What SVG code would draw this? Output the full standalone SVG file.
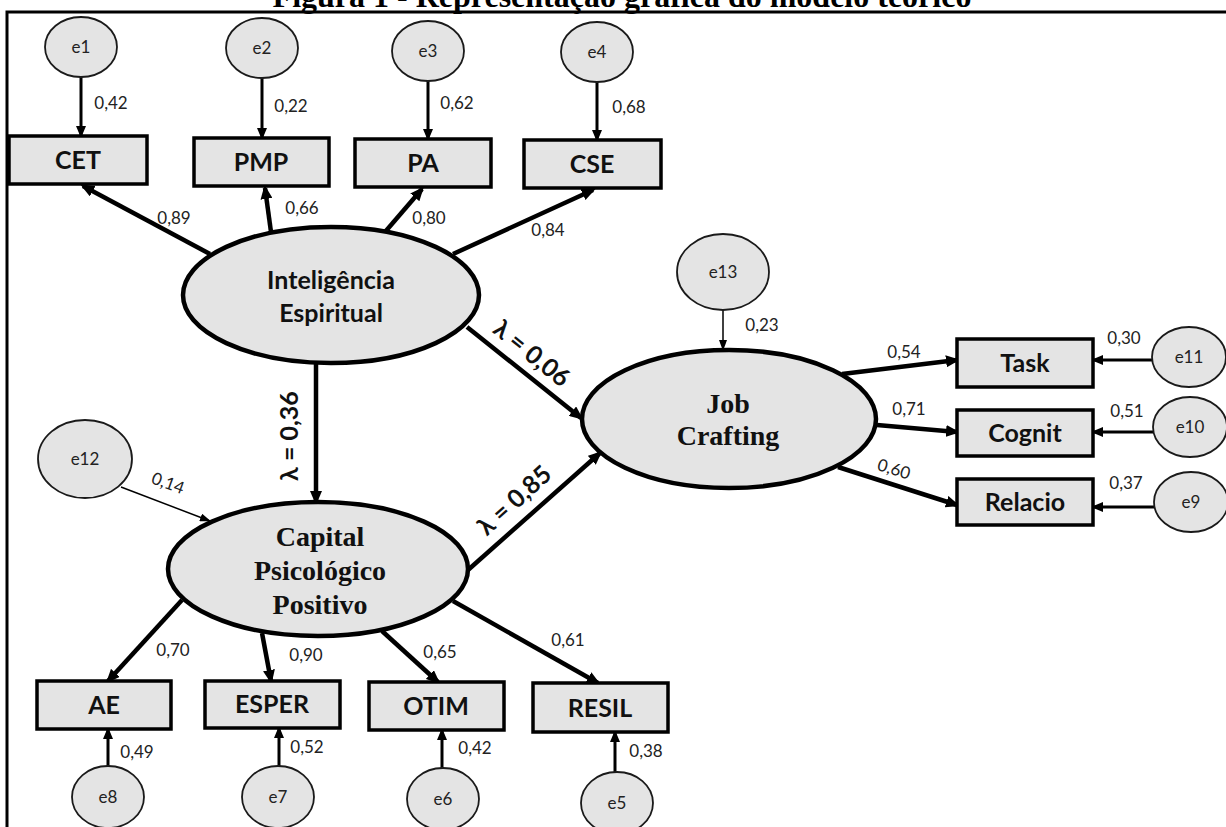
<svg xmlns="http://www.w3.org/2000/svg" width="1226" height="827" viewBox="0 0 1226 827">
<defs>
<style>
.bg{fill:#ffffff}
.frame{stroke:#000;stroke-width:3;fill:none}
.title{font-family:"Liberation Serif","Times New Roman",serif;font-weight:bold;font-size:32px;fill:#000;text-anchor:middle}
.err{fill:#e4e4e4;stroke:#1a1a1a;stroke-width:1.8}
.lat{fill:#e4e4e4;stroke:#000;stroke-width:4.5}
.box{fill:#e4e4e4;stroke:#000;stroke-width:3.5}
.et{font-family:Lato,"Liberation Sans",sans-serif;font-size:17px;fill:#222;text-anchor:middle}
.bt{font-family:Lato,"Liberation Sans",sans-serif;font-weight:bold;font-size:25px;fill:#111;text-anchor:middle}
.lt{font-family:Lato,"Liberation Sans",sans-serif;font-weight:bold;font-size:25px;fill:#111;text-anchor:middle}
.st{font-family:"Liberation Serif","Times New Roman",serif;font-weight:bold;font-size:28px;fill:#111;text-anchor:middle}
.num{font-family:Lato,"Liberation Sans",sans-serif;font-size:17px;fill:#222;text-anchor:middle}
.lam{font-family:Lato,"Liberation Sans",sans-serif;font-weight:bold;font-size:25px;fill:#111;text-anchor:middle}
.thick{stroke:#000;stroke-width:4.5;fill:none;marker-end:url(#ah)}
.med{stroke:#000;stroke-width:3;fill:none;marker-end:url(#am)}
.thin{stroke:#000;stroke-width:1.5;fill:none;marker-end:url(#at)}
</style>
<marker id="ah" viewBox="0 0 14 12" refX="11" refY="6" markerWidth="14" markerHeight="12" markerUnits="userSpaceOnUse" orient="auto"><path d="M0,0 L14,6 L0,12 z" fill="#000"/></marker>
<marker id="am" viewBox="0 0 12 10" refX="10" refY="5" markerWidth="12" markerHeight="10" markerUnits="userSpaceOnUse" orient="auto"><path d="M0,0 L12,5 L0,10 z" fill="#000"/></marker>
<marker id="at" viewBox="0 0 11 8" refX="10" refY="4" markerWidth="11" markerHeight="8" markerUnits="userSpaceOnUse" orient="auto"><path d="M0,0 L11,4 L0,8 z" fill="#000"/></marker>
</defs>
<rect class="bg" x="0" y="0" width="1226" height="827"/>
<text class="title" x="622" y="7">Figura 1 - Representação gráfica do modelo teórico</text>
<path class="frame" d="M7,827 L7,12 L1226,12"/>

<g id="connectors">
<!-- error to top indicators -->
<line class="med" x1="81" y1="77" x2="81" y2="136"/>
<line class="med" x1="262" y1="78" x2="262" y2="138"/>
<line class="med" x1="428" y1="81" x2="428" y2="139"/>
<line class="med" x1="597" y1="82" x2="597" y2="140"/>
<text class="num" x="111" y="109">0,42</text>
<text class="num" x="291" y="112">0,22</text>
<text class="num" x="457" y="109">0,62</text>
<text class="num" x="629" y="113">0,68</text>
<!-- Intel to indicators -->
<line class="thick" x1="210" y1="254" x2="83" y2="186"/>
<line class="thick" x1="271" y1="232" x2="265" y2="188"/>
<line class="thick" x1="385" y1="232" x2="422" y2="189"/>
<line class="thick" x1="453" y1="254" x2="593" y2="190"/>
<text class="num" x="174" y="224">0,89</text>
<text class="num" x="302" y="214">0,66</text>
<text class="num" x="429" y="224">0,80</text>
<text class="num" x="548" y="236">0,84</text>
<!-- structural -->
<line class="thick" x1="316" y1="363" x2="316" y2="502"/>
<text class="lam" transform="translate(289,436) rotate(-90)" y="9">λ = 0,36</text>
<line class="thick" x1="467" y1="327" x2="581" y2="418"/>
<text class="lam" transform="translate(532,353) rotate(39)" y="9">λ = 0,06</text>
<line class="thick" x1="468" y1="570" x2="600" y2="453"/>
<text class="lam" transform="translate(514,500) rotate(-42)" y="9">λ = 0,85</text>
<!-- e12, e13 -->
<line class="thin" x1="121" y1="487" x2="210" y2="521"/>
<text class="num" transform="translate(168,483) rotate(20)" y="6">0,14</text>
<line class="thin" x1="723" y1="310" x2="723" y2="350"/>
<text class="num" x="762" y="331">0,23</text>
<!-- Job to indicators -->
<line class="thick" x1="842" y1="374" x2="957" y2="360"/>
<line class="thick" x1="877" y1="425" x2="957" y2="432"/>
<line class="thick" x1="838" y1="467" x2="957" y2="505"/>
<text class="num" x="904" y="358">0,54</text>
<text class="num" x="909" y="415">0,71</text>
<text class="num" transform="translate(894,469) rotate(17)" y="6">0,60</text>
<line class="med" x1="1152" y1="360" x2="1093" y2="360"/>
<line class="med" x1="1153" y1="432" x2="1093" y2="432"/>
<line class="med" x1="1154" y1="507" x2="1093" y2="507"/>
<text class="num" x="1124" y="344">0,30</text>
<text class="num" x="1127" y="417">0,51</text>
<text class="num" x="1126" y="489">0,37</text>
<!-- Capital to indicators -->
<line class="thick" x1="182" y1="600" x2="108" y2="681"/>
<line class="thick" x1="262" y1="633" x2="271" y2="681"/>
<line class="thick" x1="382" y1="631" x2="438" y2="682"/>
<line class="thick" x1="453" y1="601" x2="598" y2="683"/>
<text class="num" x="173" y="656">0,70</text>
<text class="num" x="306" y="661">0,90</text>
<text class="num" x="440" y="658">0,65</text>
<text class="num" x="568" y="646">0,61</text>
<line class="med" x1="108" y1="766" x2="108" y2="729"/>
<line class="med" x1="279" y1="766" x2="279" y2="728"/>
<line class="med" x1="442" y1="768" x2="442" y2="730"/>
<line class="med" x1="615" y1="772" x2="615" y2="732"/>
<text class="num" x="137" y="758">0,49</text>
<text class="num" x="307" y="753">0,52</text>
<text class="num" x="475" y="754">0,42</text>
<text class="num" x="646" y="757">0,38</text>
</g>

<g id="e1"><ellipse class="err" cx="81" cy="47" rx="36" ry="30"/><text class="et" x="81" y="53">e1</text></g>
<g id="e2"><ellipse class="err" cx="262" cy="48" rx="36" ry="30"/><text class="et" x="262" y="54">e2</text></g>
<g id="e3"><ellipse class="err" cx="428" cy="51" rx="36" ry="30"/><text class="et" x="428" y="57">e3</text></g>
<g id="e4"><ellipse class="err" cx="597" cy="52" rx="36" ry="30"/><text class="et" x="597" y="58">e4</text></g>

<g id="CET"><rect class="box" x="9" y="136" width="138" height="48"/><text class="bt" x="78" y="169">CET</text></g>
<g id="PMP"><rect class="box" x="194" y="138" width="135" height="48"/><text class="bt" x="261" y="171">PMP</text></g>
<g id="PA"><rect class="box" x="355" y="139" width="136" height="48"/><text class="bt" x="423" y="172">PA</text></g>
<g id="CSE"><rect class="box" x="524" y="140" width="137" height="48"/><text class="bt" x="592" y="173">CSE</text></g>

<g id="IE"><ellipse class="lat" cx="331" cy="295" rx="148" ry="68"/><text class="lt" x="331" y="289">Inteligência</text><text class="lt" x="331" y="322">Espiritual</text></g>

<g id="e12"><ellipse class="err" cx="85" cy="459" rx="47" ry="39"/><text class="et" x="85" y="465">e12</text></g>
<g id="e13"><ellipse class="err" cx="723" cy="272" rx="46" ry="38"/><text class="et" x="723" y="278">e13</text></g>

<g id="JC"><ellipse class="lat" cx="729" cy="419" rx="147" ry="69"/><text class="st" x="728" y="413">Job</text><text class="st" x="728" y="445">Crafting</text></g>

<g id="Task"><rect class="box" x="957" y="339" width="136" height="48"/><text class="bt" x="1025" y="372">Task</text></g>
<g id="Cognit"><rect class="box" x="957" y="410" width="136" height="46"/><text class="bt" x="1025" y="442">Cognit</text></g>
<g id="Relacio"><rect class="box" x="957" y="479" width="136" height="46"/><text class="bt" x="1025" y="511">Relacio</text></g>

<g id="e11"><ellipse class="err" cx="1189" cy="357" rx="37" ry="30"/><text class="et" x="1189" y="363">e11</text></g>
<g id="e10"><ellipse class="err" cx="1190" cy="427" rx="37" ry="30"/><text class="et" x="1190" y="433">e10</text></g>
<g id="e9"><ellipse class="err" cx="1191" cy="502" rx="37" ry="30"/><text class="et" x="1191" y="508">e9</text></g>

<g id="CPP"><ellipse class="lat" cx="318" cy="569" rx="150" ry="67"/><text class="st" x="320" y="546">Capital</text><text class="st" x="320" y="580">Psicológico</text><text class="st" x="320" y="614">Positivo</text></g>

<g id="AE"><rect class="box" x="37" y="681" width="134" height="48"/><text class="bt" x="104" y="714">AE</text></g>
<g id="ESPER"><rect class="box" x="205" y="681" width="135" height="47"/><text class="bt" x="272" y="713">ESPER</text></g>
<g id="OTIM"><rect class="box" x="369" y="682" width="135" height="48"/><text class="bt" x="436" y="715">OTIM</text></g>
<g id="RESIL"><rect class="box" x="533" y="683" width="135" height="49"/><text class="bt" x="600" y="717">RESIL</text></g>

<g id="e8"><ellipse class="err" cx="108" cy="797" rx="36" ry="31"/><text class="et" x="108" y="803">e8</text></g>
<g id="e7"><ellipse class="err" cx="278" cy="797" rx="36" ry="31"/><text class="et" x="278" y="803">e7</text></g>
<g id="e6"><ellipse class="err" cx="443" cy="799" rx="36" ry="31"/><text class="et" x="443" y="805">e6</text></g>
<g id="e5"><ellipse class="err" cx="617" cy="803" rx="36" ry="31"/><text class="et" x="617" y="809">e5</text></g>
</svg>
